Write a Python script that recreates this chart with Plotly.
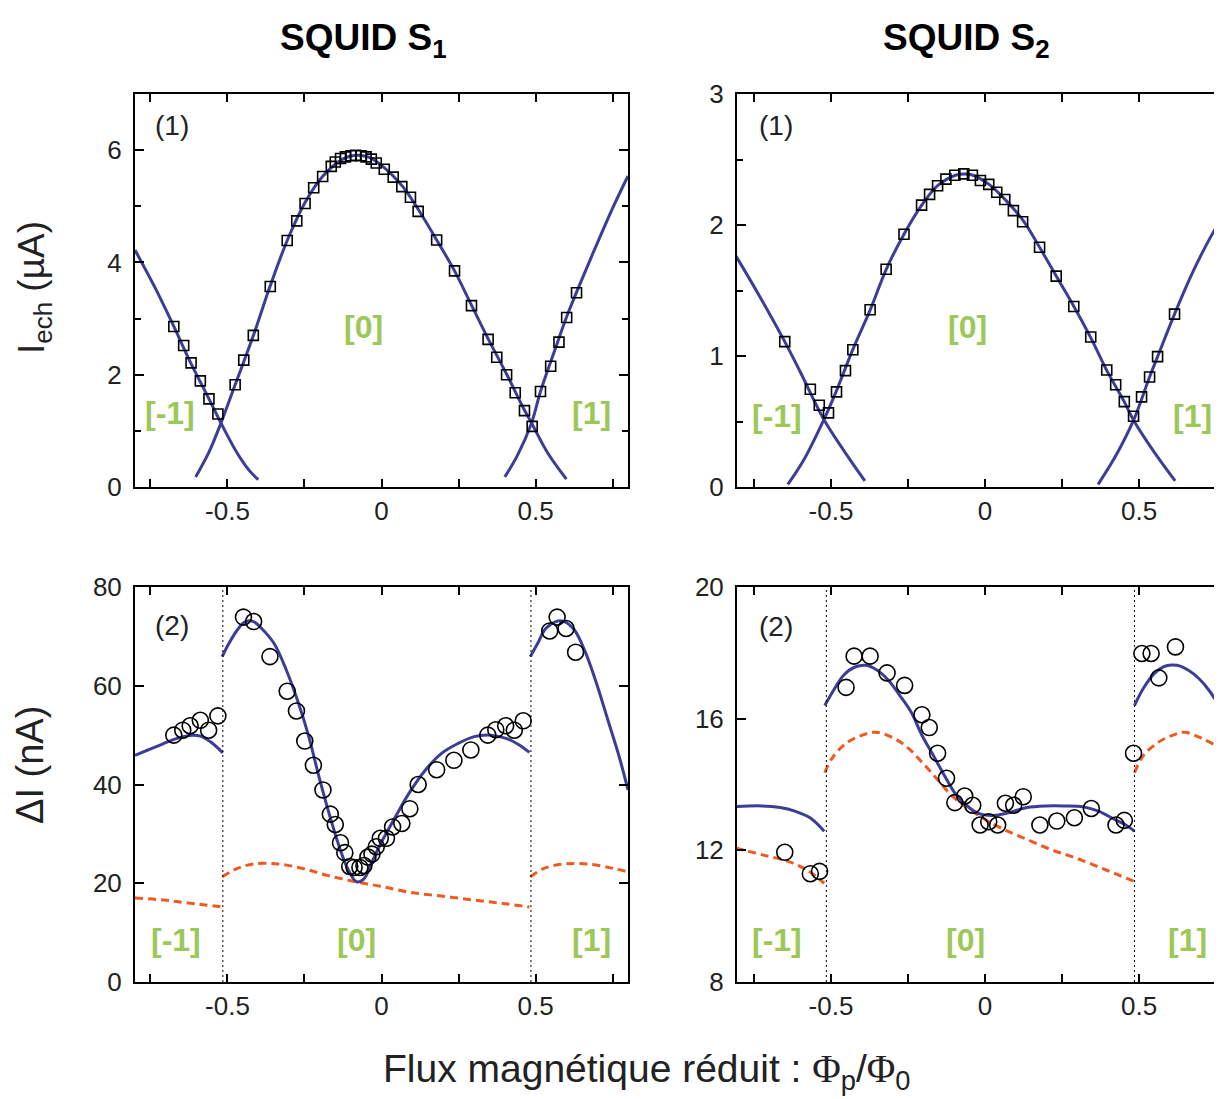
import plotly.graph_objects as go

# ---------- SQUID S1, panel (1): I_ech (uA) ----------
s1_fit_m1_x = [-0.80, -0.735, -0.674, -0.62, -0.56, -0.521, -0.47, -0.43, -0.40]
s1_fit_m1_y = [4.22, 3.55, 2.86, 2.22, 1.57, 1.14, 0.62, 0.30, 0.13]
s1_fit_0_x = [-0.603, -0.56, -0.521, -0.475, -0.415, -0.362, -0.306, -0.249, -0.19,
              -0.123, -0.083, -0.044, 0.0, 0.069, 0.122, 0.179, 0.237, 0.292, 0.347,
              0.407, 0.463, 0.487, 0.54, 0.60]
s1_fit_0_y = [0.18, 0.62, 1.14, 1.82, 2.71, 3.57, 4.39, 5.06, 5.54,
              5.85, 5.91, 5.88, 5.73, 5.35, 4.92, 4.40, 3.85, 3.24, 2.63,
              2.00, 1.38, 1.14, 0.60, 0.14]
s1_fit_p1_x = [0.40, 0.44, 0.487, 0.516, 0.56, 0.60, 0.633, 0.686, 0.752, 0.80]
s1_fit_p1_y = [0.18, 0.55, 1.14, 1.70, 2.40, 3.02, 3.47, 4.16, 4.99, 5.54]
s1_ic_x = [-0.674, -0.642, -0.618, -0.588, -0.56, -0.531, -0.475, -0.447, -0.416,
           -0.361, -0.306, -0.275, -0.248, -0.22, -0.191, -0.163, -0.15, -0.133,
           -0.117, -0.099, -0.084, -0.066, -0.05, -0.033, -0.017, 0.009, 0.038,
           0.066, 0.094, 0.119, 0.179, 0.237, 0.292, 0.346, 0.374, 0.406, 0.434,
           0.464, 0.489, 0.516, 0.549, 0.576, 0.601, 0.633]
s1_ic_y = [2.86, 2.52, 2.21, 1.89, 1.57, 1.30, 1.82, 2.26, 2.70,
           3.57, 4.39, 4.74, 5.05, 5.33, 5.53, 5.71, 5.79, 5.85,
           5.88, 5.90, 5.91, 5.90, 5.88, 5.84, 5.77, 5.66, 5.52,
           5.35, 5.16, 4.91, 4.40, 3.85, 3.23, 2.63, 2.31, 2.00, 1.68,
           1.36, 1.08, 1.70, 2.15, 2.58, 3.02, 3.46]

# ---------- SQUID S2, panel (1): I_ech (uA) ----------
s2_fit_m1_x = [-0.81, -0.735, -0.65, -0.60, -0.523, -0.456, -0.39]
s2_fit_m1_y = [1.77, 1.47, 1.11, 0.88, 0.515, 0.27, 0.046]
s2_fit_0_x = [-0.64, -0.59, -0.523, -0.483, -0.429, -0.373, -0.321, -0.263, -0.206,
              -0.154, -0.096, -0.067, -0.039, 0.013, 0.067, 0.125, 0.177, 0.231,
              0.288, 0.343, 0.395, 0.452, 0.482, 0.548, 0.617]
s2_fit_0_y = [0.02, 0.20, 0.515, 0.73, 1.05, 1.35, 1.66, 1.93, 2.15,
              2.30, 2.38, 2.39, 2.38, 2.31, 2.19, 2.03, 1.83, 1.61,
              1.38, 1.14, 0.89, 0.65, 0.51, 0.27, 0.046]
s2_fit_p1_x = [0.367, 0.427, 0.482, 0.534, 0.56, 0.615, 0.67, 0.73, 0.80]
s2_fit_p1_y = [0.02, 0.25, 0.51, 0.84, 0.995, 1.32, 1.62, 1.90, 2.18]
s2_ic_x = [-0.65, -0.567, -0.538, -0.508, -0.482, -0.453, -0.429, -0.373, -0.321,
           -0.263, -0.206, -0.18, -0.154, -0.127, -0.098, -0.069, -0.041, -0.015,
           0.012, 0.038, 0.064, 0.092, 0.122, 0.177, 0.231, 0.288, 0.343, 0.395,
           0.424, 0.452, 0.482, 0.508, 0.534, 0.56, 0.615]
s2_ic_y = [1.11, 0.746, 0.624, 0.566, 0.726, 0.888, 1.048, 1.353, 1.662,
           1.929, 2.152, 2.234, 2.30, 2.35, 2.38, 2.39, 2.38, 2.34,
           2.31, 2.25, 2.195, 2.11, 2.025, 1.83, 1.61, 1.378, 1.145, 0.893,
           0.78, 0.652, 0.54, 0.688, 0.84, 0.995, 1.32]

# ---------- SQUID S1, panel (2): Delta I (nA) ----------
s1_dth_m1_x = [-0.80, -0.733, -0.68, -0.627, -0.588, -0.554, -0.515]
s1_dth_m1_y = [45.9, 47.6, 49.0, 49.9, 49.8, 48.6, 46.4]
s1_dth_0_x = [-0.517, -0.495, -0.468, -0.442, -0.415, -0.389, -0.349, -0.309, -0.269,
              -0.236, -0.203, -0.17, -0.137, -0.11, -0.081, -0.057, -0.031, 0.003,
              0.042, 0.089, 0.142, 0.195, 0.248, 0.301, 0.354, 0.407, 0.447, 0.48]
s1_dth_0_y = [65.9, 68.6, 71.3, 73.0, 73.0, 71.6, 68.6, 63.2, 56.4,
              49.7, 41.6, 34.1, 27.4, 23.0, 20.3, 20.9, 24.3, 28.7,
              33.1, 38.2, 42.9, 46.3, 48.3, 49.7, 50.0, 49.3, 48.0, 46.5]
s1_dth_p1_x = [0.483, 0.507, 0.533, 0.566, 0.593, 0.626, 0.659, 0.695, 0.735, 0.772, 0.80]
s1_dth_p1_y = [65.9, 68.6, 71.6, 73.0, 73.0, 71.3, 67.2, 61.0, 53.0, 45.5, 38.9]
s1_dlow_m1_x = [-0.80, -0.707, -0.627, -0.515]
s1_dlow_m1_y = [17.0, 16.6, 16.0, 15.2]
s1_dlow_0_x = [-0.517, -0.468, -0.415, -0.336, -0.256, -0.176, -0.084, -0.004,
               0.089, 0.195, 0.301, 0.394, 0.48]
s1_dlow_0_y = [21.3, 23.0, 23.9, 23.9, 23.0, 21.6, 20.3, 19.4,
               18.2, 17.4, 16.6, 15.9, 15.2]
s1_dlow_p1_x = [0.483, 0.527, 0.593, 0.672, 0.752, 0.80]
s1_dlow_p1_y = [21.3, 23.0, 23.9, 23.9, 23.0, 22.3]
s1_di_x = [-0.674, -0.645, -0.621, -0.588, -0.561, -0.531, -0.448, -0.415, -0.362,
           -0.306, -0.276, -0.249, -0.221, -0.19, -0.166, -0.15, -0.133, -0.119,
           -0.103, -0.089, -0.07, -0.057, -0.044, -0.031, -0.017, -0.004, 0.016,
           0.036, 0.066, 0.092, 0.119, 0.179, 0.235, 0.29, 0.345, 0.371, 0.403,
           0.431, 0.46, 0.546, 0.57, 0.599, 0.63]
s1_di_y = [50.0, 51.0, 51.9, 53.0, 51.0, 53.9, 73.9, 73.0, 65.9,
           58.9, 54.9, 48.8, 43.9, 38.9, 34.0, 31.9, 28.2, 26.2,
           23.4, 23.2, 23.2, 23.6, 25.3, 25.9, 27.4, 29.1, 29.1,
           31.4, 32.1, 35.1, 40.0, 43.0, 44.9, 47.0, 50.0, 51.1, 51.9,
           51.0, 52.9, 71.1, 73.9, 71.6, 66.8]

# ---------- SQUID S2, panel (2): Delta I (nA) ----------
s2_dth_m1_x = [-0.81, -0.725, -0.665, -0.617, -0.568, -0.522]
s2_dth_m1_y = [13.33, 13.35, 13.30, 13.19, 12.99, 12.58]
s2_dth_0_x = [-0.52, -0.495, -0.459, -0.422, -0.386, -0.35, -0.313, -0.277, -0.24,
              -0.204, -0.167, -0.131, -0.095, -0.058, -0.022, 0.027, 0.075, 0.136,
              0.197, 0.258, 0.319, 0.368, 0.416, 0.453, 0.485]
s2_dth_0_y = [16.40, 16.81, 17.32, 17.57, 17.62, 17.47, 17.16, 16.71, 16.20,
              15.48, 14.87, 14.26, 13.70, 13.35, 13.12, 13.06, 13.14, 13.30,
              13.35, 13.35, 13.32, 13.19, 12.96, 12.79, 12.58]
s2_dth_p1_x = [0.485, 0.513, 0.549, 0.586, 0.623, 0.66, 0.694, 0.731, 0.777, 0.80]
s2_dth_p1_y = [16.40, 16.91, 17.37, 17.60, 17.62, 17.47, 17.22, 16.81, 16.10, 15.70]
s2_dlow_m1_x = [-0.81, -0.725, -0.641, -0.579, -0.522]
s2_dlow_m1_y = [12.07, 11.87, 11.67, 11.41, 11.00]
s2_dlow_0_x = [-0.52, -0.495, -0.447, -0.398, -0.356, -0.301, -0.252, -0.204, -0.155,
               -0.107, -0.058, -0.01, 0.051, 0.124, 0.209, 0.294, 0.391, 0.485]
s2_dlow_0_y = [14.36, 14.82, 15.28, 15.50, 15.59, 15.43, 15.13, 14.67, 14.16,
               13.65, 13.30, 12.99, 12.68, 12.38, 12.04, 11.77, 11.41, 11.05]
s2_dlow_p1_x = [0.485, 0.513, 0.562, 0.61, 0.647, 0.708, 0.777, 0.80]
s2_dlow_p1_y = [14.36, 14.87, 15.28, 15.50, 15.59, 15.38, 15.03, 14.85]
s2_di_x = [-0.65, -0.567, -0.537, -0.451, -0.425, -0.373, -0.318, -0.261, -0.205,
           -0.181, -0.154, -0.125, -0.098, -0.066, -0.04, -0.016, 0.012, 0.041,
           0.066, 0.093, 0.124, 0.178, 0.233, 0.29, 0.345, 0.425, 0.452, 0.482,
           0.509, 0.539, 0.564, 0.618]
s2_di_y = [11.94, 11.29, 11.36, 16.95, 17.90, 17.90, 17.39, 17.01, 16.12,
           15.73, 14.95, 14.19, 13.45, 13.65, 13.37, 12.77, 12.87, 12.77,
           13.43, 13.37, 13.63, 12.77, 12.89, 12.99, 13.27, 12.77, 12.91, 14.95,
           17.98, 17.98, 17.24, 18.18]

branch_labels = ['[-1]', '[0]', '[1]']
flux_jumps = [-0.515, 0.485]
x_major = [-0.5, 0, 0.5]
x_major_text = ['-0.5', '0', '0.5']
x_minor = [-0.75, -0.25, 0.25, 0.75]

BLUE = '#3d3d99'
ORANGE = '#f05a22'
GREEN = '#9cc85a'
INK = '#222222'
FONT = 'Liberation Sans, Arial, sans-serif'
NARROW = 'Liberation Sans Narrow, Arial Narrow, Liberation Sans, sans-serif'

W, H = 1222, 1099
OFF = 8  # the page body margin shifts the figure by this much


def px_x(a):
  return (a - OFF) / W


def px_y(b):
  return 1 - (b - OFF) / H


fig = go.Figure()


def fit_line(x, y, ax, color=BLUE, dash='solid'):
  fig.add_trace(go.Scatter(
    x=x, y=y, mode='lines', xaxis='x' + ax, yaxis='y' + ax,
    line=dict(color=color, width=3, dash=dash, shape='spline', smoothing=1.0),
    showlegend=False, hoverinfo='skip'))


def points(x, y, ax, symbol, size):
  fig.add_trace(go.Scatter(
    x=x, y=y, mode='markers', xaxis='x' + ax, yaxis='y' + ax,
    marker=dict(symbol=symbol, size=size, color='black',
                line=dict(color='black', width=1.6)),
    showlegend=False))


# panel (1) S1
for bx, by in [(s1_fit_m1_x, s1_fit_m1_y), (s1_fit_0_x, s1_fit_0_y), (s1_fit_p1_x, s1_fit_p1_y)]:
  fit_line(bx, by, '')
points(s1_ic_x, s1_ic_y, '', 'square-open', 10)

# panel (1) S2
for bx, by in [(s2_fit_m1_x, s2_fit_m1_y), (s2_fit_0_x, s2_fit_0_y), (s2_fit_p1_x, s2_fit_p1_y)]:
  fit_line(bx, by, '2')
points(s2_ic_x, s2_ic_y, '2', 'square-open', 10)

# panel (2) S1
for bx, by in [(s1_dlow_m1_x, s1_dlow_m1_y), (s1_dlow_0_x, s1_dlow_0_y), (s1_dlow_p1_x, s1_dlow_p1_y)]:
  fit_line(bx, by, '3', ORANGE, '8px,5px')
for bx, by in [(s1_dth_m1_x, s1_dth_m1_y), (s1_dth_0_x, s1_dth_0_y), (s1_dth_p1_x, s1_dth_p1_y)]:
  fit_line(bx, by, '3')
points(s1_di_x, s1_di_y, '3', 'circle-open', 16)

# panel (2) S2
for bx, by in [(s2_dlow_m1_x, s2_dlow_m1_y), (s2_dlow_0_x, s2_dlow_0_y), (s2_dlow_p1_x, s2_dlow_p1_y)]:
  fit_line(bx, by, '4', ORANGE, '8px,5px')
for bx, by in [(s2_dth_m1_x, s2_dth_m1_y), (s2_dth_0_x, s2_dth_0_y), (s2_dth_p1_x, s2_dth_p1_y)]:
  fit_line(bx, by, '4')
points(s2_di_x, s2_di_y, '4', 'circle-open', 16)


def xaxis(domain, rng, anchor):
  return dict(
    domain=domain, range=rng, anchor=anchor, automargin=False,
    tickmode='array', tickvals=x_major, ticktext=x_major_text,
    ticks='inside', ticklen=8, tickwidth=1.5, tickcolor='black',
    minor=dict(tickmode='array', tickvals=x_minor, ticks='inside', ticklen=8,
               tickwidth=1.5, tickcolor='black'),
    showline=True, linecolor='black', linewidth=2, mirror='ticks',
    showgrid=False, zeroline=False, ticklabelstandoff=0,
    tickfont=dict(family=FONT, size=26, color=INK))


def yaxis(domain, rng, anchor, dtick, minor, mirror):
  ax = dict(
    domain=domain, range=rng, anchor=anchor, automargin=False,
    tickmode='linear', tick0=0, dtick=dtick, ticks='inside', ticklen=9, tickwidth=1.5,
    tickcolor='black', showline=True, linecolor='black', linewidth=2, mirror=mirror,
    showgrid=False, zeroline=False, ticklabelstandoff=6,
    tickfont=dict(family=FONT, size=26, color=INK))
  if minor:
    ax['minor'] = dict(dtick=minor, ticks='inside', ticklen=6, tickwidth=1.5,
                       tickcolor='black')
  return ax


left_dom = [px_x(135), px_x(628)]
right_dom = [px_x(737), 1.0]
top_dom = [px_y(487), px_y(94)]
bot_dom = [px_y(982), px_y(587)]
left_rng = [-0.8, 0.8]
right_rng = [-0.805, 0.795]

fig.update_layout(
  width=W, height=H,
  margin=dict(l=0, r=0, t=0, b=0),
  paper_bgcolor='white', plot_bgcolor='white',
  xaxis=xaxis(left_dom, left_rng, 'y'),
  yaxis=yaxis(top_dom, [0, 7], 'x', 2, 1, 'ticks'),
  xaxis2=xaxis(right_dom, right_rng, 'y2'),
  yaxis2=yaxis(top_dom, [0, 3], 'x2', 1, 0.5, False),
  xaxis3=xaxis(left_dom, left_rng, 'y3'),
  yaxis3=yaxis(bot_dom, [0, 80], 'x3', 20, None, 'ticks'),
  xaxis4=xaxis(right_dom, right_rng, 'y4'),
  yaxis4=yaxis(bot_dom, [8, 20], 'x4', 4, None, False),
)

# flux jump markers in the Delta I panels
for ax in ['3', '4']:
  for xj in flux_jumps:
    fig.add_shape(type='line', xref='x' + ax, yref='y' + ax + ' domain',
                  x0=xj, x1=xj, y0=0, y1=1,
                  line=dict(color='black', width=1, dash='2px,3px'))

# branch labels
branch_pos = {
  '': ([-0.685, -0.06, 0.68], [1.32, 2.85, 1.32]),
  '2': ([-0.675, -0.058, 0.672], [0.54, 1.22, 0.54]),
  '3': ([-0.666, -0.08, 0.68], [8.6, 8.6, 8.6]),
  '4': ([-0.675, -0.065, 0.656], [9.28, 9.28, 9.28]),
}
for ax, (xs, ys) in branch_pos.items():
  for lab, xv, yv in zip(branch_labels, xs, ys):
    fig.add_annotation(x=xv, y=yv, xref='x' + ax, yref='y' + ax, text='<b>%s</b>' % lab,
                       showarrow=False, font=dict(family=NARROW, size=32, color=GREEN))

panel_tags = {'': ('(1)', 6.44), '2': ('(1)', 2.76), '3': ('(2)', 72.2), '4': ('(2)', 18.8)}
for ax, (tag, yv) in panel_tags.items():
  fig.add_annotation(x=-0.68, y=yv, xref='x' + ax, yref='y' + ax, text=tag,
                     showarrow=False, font=dict(family=FONT, size=28, color=INK))


def paper_text(x, y, text, size, angle=0, color=INK):
  fig.add_annotation(x=px_x(x), y=px_y(y), xref='paper', yref='paper',
                     xanchor='center', yanchor='middle', text=text,
                     textangle=angle, showarrow=False,
                     font=dict(family=FONT, size=size, color=color))


# titles
paper_text(363, 40, '<b>SQUID S<sub>1</sub></b>', 37, color='black')
paper_text(966, 40, '<b>SQUID S<sub>2</sub></b>', 37, color='black')

# axis titles
paper_text(34, 288, 'I<sub>ech</sub> (µA)', 37, angle=-90)
paper_text(30, 765, 'ΔI (nA)', 38, angle=-90)
paper_text(646, 1071, 'Flux magnétique réduit : '
                      '<span style="font-family:Liberation Serif">Φ</span><sub>p</sub>/'
                      '<span style="font-family:Liberation Serif">Φ</span><sub>0</sub>', 39)

fig.write_html("out.html")
